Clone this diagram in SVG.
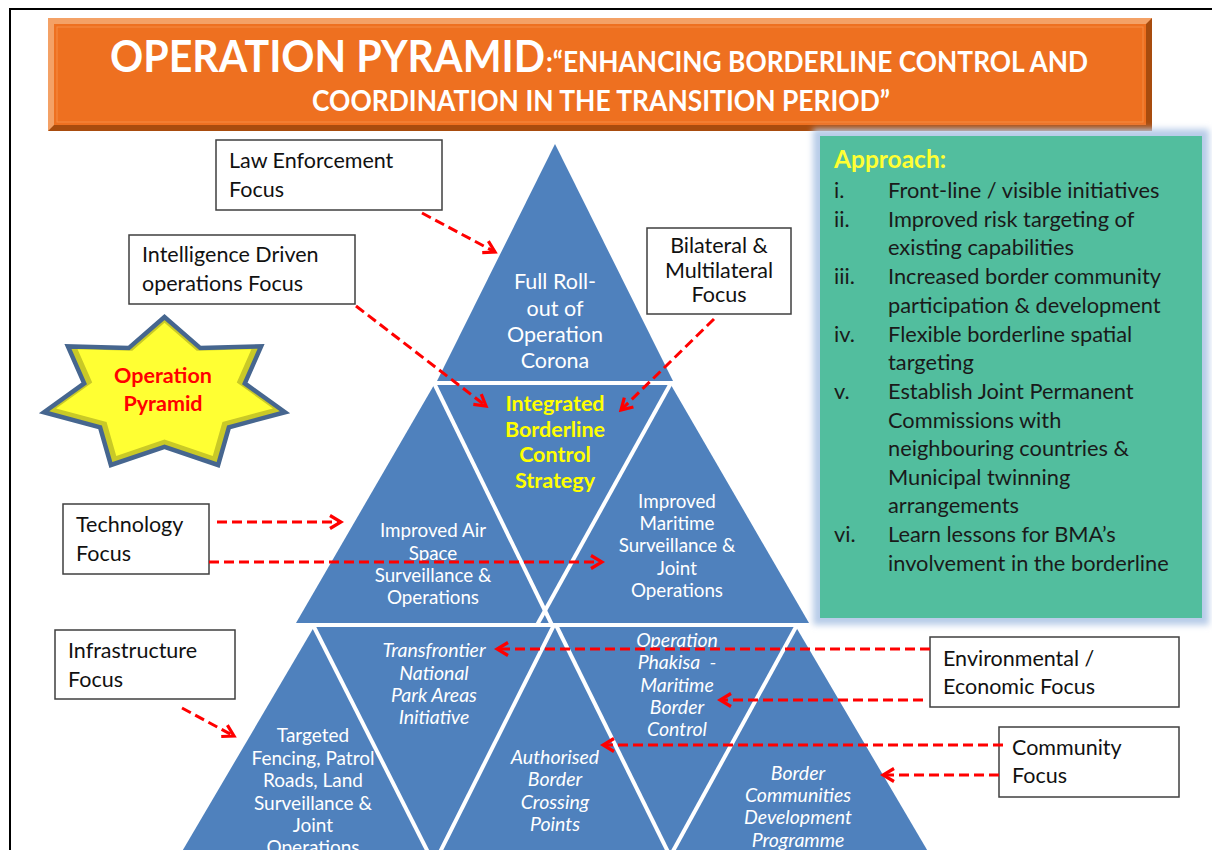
<svg xmlns="http://www.w3.org/2000/svg" width="1212" height="850" viewBox="0 0 1212 850">
  <defs>
    <style>
      .frame { fill: none; stroke: #000; stroke-width: 2; }
      .box { fill: #fff; stroke: #3f3f3f; stroke-width: 1.5; }
      .boxtxt { font-family: Lato, "Liberation Sans", sans-serif; font-size: 21.5px; fill: #111; }
      .ctr { text-anchor: middle; }
      .tri { fill: #4F81BD; }
      .div { stroke: #fff; stroke-width: 4; fill: none; }
      .wt { font-family: Lato, "Liberation Sans", sans-serif; fill: #fff; text-anchor: middle; }
      .it { font-style: italic; }
      .appr { font-family: Lato, "Liberation Sans", sans-serif; font-size: 21.8px; fill: #1a1a1a; }
      .conn { fill: none; stroke: #FF0000; stroke-width: 3; stroke-dasharray: 10 5; marker-end: url(#ah); }
      .title { font-family: Lato, "Liberation Sans", sans-serif; font-weight: bold; fill: #fff; }
    </style>
    <marker id="ah" markerUnits="userSpaceOnUse" markerWidth="18" markerHeight="18" viewBox="0 0 18 18" refX="15" refY="9" orient="auto">
      <path d="M4,2.5 L15,9 L4,15.5" fill="none" stroke="#FF0000" stroke-width="3.2"/>
    </marker>
    <filter id="glow" x="-10%" y="-10%" width="120%" height="120%">
      <feGaussianBlur stdDeviation="3"/>
    </filter>
  </defs>

  <!-- page frame -->
  <path class="frame" d="M10,850 L10,9 L1212,9"/>

  <!-- title banner -->
  <g id="title">
    <rect x="48" y="18" width="1104" height="113" fill="#A84C0E"/>
    <polygon points="48,18 1152,18 1146,24 54,24 54,125 48,131" fill="#F4A166"/>
    <rect x="54" y="24" width="1092" height="101" fill="#EE7020"/>
    <rect x="57" y="27" width="1086" height="95" fill="none" stroke="#F58C45" stroke-width="1"/>
    <text class="title" x="110" y="72" font-size="44" textLength="435" lengthAdjust="spacingAndGlyphs">OPERATION PYRAMID</text>
    <text class="title" x="546" y="72" font-size="28" textLength="542" lengthAdjust="spacingAndGlyphs">:“ENHANCING BORDERLINE CONTROL AND</text>
    <text class="title" x="312" y="111" font-size="28" textLength="578" lengthAdjust="spacingAndGlyphs">COORDINATION IN THE TRANSITION PERIOD”</text>
  </g>

  <!-- approach panel -->
  <g id="approach">
    <rect x="813" y="129" width="396" height="496" fill="#B8CCE8" filter="url(#glow)"/>
    <rect x="820" y="136" width="382" height="482" fill="#52BE9E"/>
    <text x="834" y="168" font-family="Lato, 'Liberation Sans', sans-serif" font-size="24.5" font-weight="bold" fill="#FFFF33">Approach:</text>
    <g class="appr">
      <text x="834" y="198">i.</text><text x="888" y="198">Front-line / visible initiatives</text>
      <text x="834" y="227">ii.</text><text x="888" y="227">Improved risk targeting of</text>
      <text x="888" y="255">existing capabilities</text>
      <text x="834" y="284">iii.</text><text x="888" y="284">Increased border community</text>
      <text x="888" y="313">participation &amp; development</text>
      <text x="834" y="342">iv.</text><text x="888" y="342">Flexible borderline spatial</text>
      <text x="888" y="370">targeting</text>
      <text x="834" y="399">v.</text><text x="888" y="399">Establish Joint Permanent</text>
      <text x="888" y="428">Commissions with</text>
      <text x="888" y="456">neighbouring countries &amp;</text>
      <text x="888" y="485">Municipal twinning</text>
      <text x="888" y="513">arrangements</text>
      <text x="834" y="542">vi.</text><text x="888" y="542">Learn lessons for BMA’s</text>
      <text x="888" y="571">involvement in the borderline</text>
    </g>
  </g>

  <!-- badge star -->
  <g id="star">
    <polygon points="164.5,317 128.7,348.1 67.9,346.4 84.2,383.4 44,412.2 100.1,427.3 110.9,465 164.5,446.8 218.1,465 228.9,427.3 285,412.2 244.8,383.4 261.1,346.4 200.3,348.1" fill="#C9C927" stroke="#46668F" stroke-width="4.5" stroke-linejoin="miter"/>
    <polygon points="164.5,317 128.7,348.1 67.9,346.4 84.2,383.4 44,412.2 100.1,427.3 110.9,465 164.5,446.8 218.1,465 228.9,427.3 285,412.2 244.8,383.4 261.1,346.4 200.3,348.1" fill="#FFFF33" transform="translate(164.5 393) scale(0.9) translate(-164.5 -395)"/>
    <text x="163" y="383" font-family="Lato, 'Liberation Sans', sans-serif" font-size="21.5" font-weight="bold" fill="#FF0000" text-anchor="middle">Operation</text>
    <text x="163" y="411" font-family="Lato, 'Liberation Sans', sans-serif" font-size="21.5" font-weight="bold" fill="#FF0000" text-anchor="middle">Pyramid</text>
  </g>

  <!-- pyramid: apex -->
  <g id="corona">
    <polygon class="tri" points="555,144 437,381 673,381"/>
    <g class="wt" font-size="21.5">
      <text x="555" y="289">Full Roll-</text>
      <text x="555" y="316">out of</text>
      <text x="555" y="342">Operation</text>
      <text x="555" y="368">Corona</text>
    </g>
  </g>

  <!-- pyramid: middle band -->
  <g id="band2">
    <polygon class="tri" points="434,385 671,385 809,623 296,623"/>
    <line class="div" x1="434" y1="383" x2="552" y2="625"/>
    <line class="div" x1="671" y1="383" x2="537" y2="625"/>
  </g>
  <g id="air-space">
    <g class="wt" font-size="18.8">
      <text x="433" y="537">Improved Air</text>
      <text x="433" y="560">Space</text>
      <text x="433" y="582">Surveillance &amp;</text>
      <text x="433" y="604">Operations</text>
    </g>
  </g>
  <g id="integrated">
    <g font-family="Lato, 'Liberation Sans', sans-serif" font-size="21.5" font-weight="bold" fill="#FFFF00" text-anchor="middle">
      <text x="555" y="411">Integrated</text>
      <text x="555" y="437">Borderline</text>
      <text x="555" y="462">Control</text>
      <text x="555" y="488">Strategy</text>
    </g>
  </g>
  <g id="maritime">
    <g class="wt" font-size="18.8">
      <text x="677" y="508">Improved</text>
      <text x="677" y="530">Maritime</text>
      <text x="677" y="552">Surveillance &amp;</text>
      <text x="677" y="575">Joint</text>
      <text x="677" y="597">Operations</text>
    </g>
  </g>

  <!-- pyramid: base band -->
  <g id="band3">
    <polygon class="tri" points="314,627 796,627 933,860 177,860"/>
    <line class="div" x1="313" y1="625" x2="433" y2="862"/>
    <line class="div" x1="554" y1="625" x2="435" y2="862"/>
    <line class="div" x1="556" y1="625" x2="673" y2="862"/>
    <line class="div" x1="797" y1="625" x2="667" y2="862"/>
  </g>
  <g id="fencing">
    <g class="wt" font-size="19">
      <text x="313" y="742">Targeted</text>
      <text x="313" y="765">Fencing, Patrol</text>
      <text x="313" y="787">Roads, Land</text>
      <text x="313" y="810">Surveillance &amp;</text>
      <text x="313" y="832">Joint</text>
      <text x="313" y="854">Operations</text>
    </g>
  </g>
  <g id="transfrontier">
    <g class="wt it" font-size="19.5">
      <text x="434" y="657">Transfrontier</text>
      <text x="434" y="680">National</text>
      <text x="434" y="702">Park Areas</text>
      <text x="434" y="724">Initiative</text>
    </g>
  </g>
  <g id="crossing">
    <g class="wt it" font-size="19.5">
      <text x="555" y="764">Authorised</text>
      <text x="555" y="786">Border</text>
      <text x="555" y="809">Crossing</text>
      <text x="555" y="831">Points</text>
    </g>
  </g>
  <g id="phakisa">
    <g class="wt it" font-size="19.5">
      <text x="677" y="647">Operation</text>
      <text x="677" y="669" xml:space="preserve">Phakisa  -</text>
      <text x="677" y="692">Maritime</text>
      <text x="677" y="714">Border</text>
      <text x="677" y="736">Control</text>
    </g>
  </g>
  <g id="communities">
    <g class="wt it" font-size="19.5">
      <text x="798" y="780">Border</text>
      <text x="798" y="802">Communities</text>
      <text x="798" y="824">Development</text>
      <text x="798" y="847">Programme</text>
    </g>
  </g>

  <!-- focus boxes -->
  <g id="law-enforcement">
    <rect class="box" x="216" y="140" width="226" height="70"/>
    <text class="boxtxt" x="229" y="168">Law Enforcement</text>
    <text class="boxtxt" x="229" y="197">Focus</text>
  </g>
  <g id="intelligence">
    <rect class="box" x="129" y="235" width="226" height="69"/>
    <text class="boxtxt" x="142" y="262">Intelligence Driven</text>
    <text class="boxtxt" x="142" y="291">operations Focus</text>
  </g>
  <g id="bilateral">
    <rect class="box" x="647" y="228" width="144" height="86"/>
    <g class="boxtxt ctr" font-size="17">
      <text x="719" y="253">Bilateral &amp;</text>
      <text x="719" y="278">Multilateral</text>
      <text x="719" y="302">Focus</text>
    </g>
  </g>
  <g id="technology">
    <rect class="box" x="63" y="504" width="146" height="70"/>
    <text class="boxtxt" x="76" y="532">Technology</text>
    <text class="boxtxt" x="76" y="561">Focus</text>
  </g>
  <g id="infrastructure">
    <rect class="box" x="55" y="630" width="180" height="69"/>
    <text class="boxtxt" x="68" y="658">Infrastructure</text>
    <text class="boxtxt" x="68" y="687">Focus</text>
  </g>
  <g id="environmental">
    <rect class="box" x="930" y="637" width="249" height="70"/>
    <text class="boxtxt" x="943" y="666">Environmental /</text>
    <text class="boxtxt" x="943" y="694">Economic Focus</text>
  </g>
  <g id="community">
    <rect class="box" x="999" y="727" width="180" height="70"/>
    <text class="boxtxt" x="1012" y="755">Community</text>
    <text class="boxtxt" x="1012" y="783">Focus</text>
  </g>

  <!-- connectors -->
  <g id="connectors">
    <path class="conn" d="M422,213 L495,252"/>
    <path class="conn" d="M356,306 L486,406"/>
    <path class="conn" d="M714,319 L621,410"/>
    <path class="conn" d="M217,522 L341,522"/>
    <path class="conn" d="M209,562 L602,562"/>
    <path class="conn" d="M182,708 L234,736"/>
    <path class="conn" d="M930,649 L497,649"/>
    <path class="conn" d="M923,700 L720,700"/>
    <path class="conn" d="M1003,745 L603,745"/>
    <path class="conn" d="M999,775 L883,775"/>
  </g>
</svg>
